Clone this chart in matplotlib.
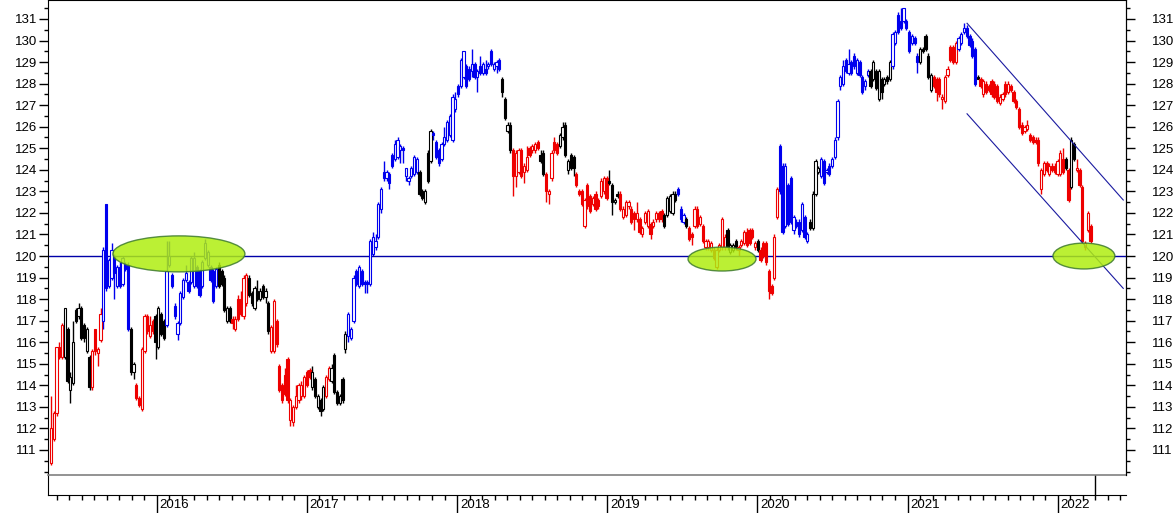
import numpy as np
import matplotlib.pyplot as plt
from matplotlib.patches import Ellipse
from matplotlib.ticker import MultipleLocator, FixedLocator

plt.rcParams['font.family'] = ['Liberation Sans', 'DejaVu Sans']

# weekly candles, one row per year (2015 starts in April, 2022 ends in March)
opens = [
    110.4, 111.5, 112.7, 115.8, 115.3, 115.3, 116.6, 113.8, 114.1, 117.5, 117.2, 117.6, 116.8, 115.6, 115.3, 113.9, 116.6, 115.5, 116.1, 117.0,
    122.4, 118.6, 119.0, 120.0, 118.6, 119.5, 118.7, 119.6, 119.6, 116.6, 114.6, 114.0, 113.4, 112.9, 115.6, 117.2, 116.3, 117.0,
    # 2016
    117.2, 115.8, 117.3, 117.0, 116.8, 119.6, 119.1, 117.7, 116.4, 116.9, 118.1, 118.9, 118.8, 118.8, 118.6, 119.5, 119.3, 118.6, 119.9, 119.6,
    119.5, 119.3, 118.6, 119.6, 119.3, 119.0, 117.0, 117.6, 117.1, 116.6, 118.0, 118.0, 117.2, 117.8, 119.0, 118.3, 117.6, 118.4, 118.0, 118.6,
    118.1, 117.8, 115.6, 115.6, 117.0, 114.9, 114.0, 114.5, 115.2, 112.4, 112.3, 113.0, 113.3,
    # 2017
    113.5, 113.5, 114.6, 114.7, 113.9, 114.3, 113.0, 113.3, 112.9, 113.5, 114.3, 114.2, 115.4, 113.7, 113.2, 114.3, 115.7, 116.3, 116.2, 117.0,
    119.3, 118.6, 119.3, 118.8, 118.8, 118.7, 120.1, 120.4, 120.9, 122.2, 123.9, 123.6, 123.8, 124.7, 124.5, 124.6, 124.9, 125.0, 123.7, 123.5,
    123.7, 123.8, 123.9, 123.9, 123.0, 122.5, 124.8, 124.4, 125.7, 125.3, 124.9, 124.5, 125.2, 125.4, 125.6,
    # 2018
    125.4, 126.8, 127.9, 127.9, 128.3, 128.8, 128.7, 128.6, 128.9, 128.3, 128.8, 128.5, 128.7, 128.8, 129.5, 128.7, 128.8, 129.1, 128.2, 127.3,
    125.8, 126.1, 124.9, 123.7, 123.9, 124.9, 123.9, 124.0, 125.0, 124.9, 124.9, 125.3, 124.7, 124.8, 123.8, 122.9, 123.6, 125.3, 125.2, 125.1,
    125.5, 126.1, 124.0, 124.7, 124.6, 123.8, 123.0, 123.0, 121.4, 123.3, 122.8, 122.4, 122.9, 122.6, 122.8, 123.0, 123.6,
    # 2019
    123.5, 123.3, 122.5, 122.9, 122.9, 121.8, 121.9, 122.3, 122.2, 122.0, 121.7, 121.7, 121.0, 121.6, 121.4, 121.5, 121.4, 121.7, 122.0, 122.1,
    121.9, 121.9, 122.1, 122.0, 122.9, 123.1, 122.2, 121.6, 121.7, 121.3, 121.0, 121.4, 122.2, 121.5, 121.4, 120.4, 120.4, 120.3, 120.3, 119.5,
    120.3, 120.4, 120.4, 121.2, 120.2, 120.3, 120.7, 120.3, 120.5, 120.6, 121.1, 121.2, 121.2,
    # 2020
    120.4, 120.7, 120.3, 120.6, 120.6, 119.3, 118.6, 119.0, 121.8, 125.1, 124.2, 121.4, 123.3, 123.6, 121.2, 121.6, 121.6, 121.2, 121.8, 120.7,
    121.6, 121.3, 122.9, 123.9, 123.7, 124.4, 123.9, 124.2, 124.2, 124.6, 125.5, 127.9, 128.0, 129.1, 128.5, 129.0, 129.3, 128.5, 129.0, 128.3,
    127.9, 128.4, 128.6, 128.2, 128.6, 127.3, 128.2, 128.0, 128.3, 128.2, 128.8, 129.9, 131.2, 130.9, 130.9, 130.9,
    # 2021
    130.4, 129.9, 130.1, 129.3, 129.0, 129.6, 130.2, 129.3, 127.7, 128.3, 128.2, 128.2, 127.3, 127.2, 128.4, 129.7, 129.7, 129.0, 129.6, 129.9,
    130.4, 130.6, 130.2, 130.0, 129.6, 128.3, 128.2, 127.5, 128.0, 127.9, 128.1, 128.0, 127.9, 127.1, 127.3, 128.0, 127.6, 127.9, 127.6, 127.2,
    126.8, 126.1, 125.8, 125.9, 125.6, 125.5, 125.4, 125.4, 123.1, 123.8, 124.3, 123.8, 124.2, 124.2, 123.8, 123.8,
    # 2022
    124.5, 124.5, 124.0, 123.2, 125.2, 124.0, 124.0, 123.2, 120.4, 121.2, 121.4,
]
closes = [
    112.0, 112.7, 115.8, 115.3, 116.8, 117.6, 114.2, 114.4, 116.0, 117.0, 117.6, 116.2, 116.2, 116.6, 113.9, 115.6, 115.6, 115.7, 117.3, 120.3,
    118.5, 119.8, 120.3, 119.2, 119.5, 118.6, 119.9, 119.4, 116.6, 114.6, 115.0, 113.4, 113.1, 115.7, 117.2, 116.5, 116.8, 116.5,
    # 2016
    116.0, 117.6, 116.4, 116.2, 119.3, 120.0, 118.6, 117.2, 116.9, 118.3, 118.9, 119.2, 118.4, 119.9, 119.9, 118.6, 118.2, 119.7, 120.6, 120.2,
    118.9, 117.9, 119.4, 118.6, 118.7, 117.5, 117.6, 117.0, 116.9, 117.1, 117.1, 117.3, 119.0, 119.1, 118.2, 117.8, 118.5, 118.0, 118.4, 118.1,
    118.4, 116.5, 116.7, 117.9, 115.9, 113.8, 113.3, 113.6, 113.3, 113.3, 113.0, 113.5, 114.0,
    # 2017
    114.0, 114.4, 114.0, 114.4, 114.6, 113.5, 113.5, 112.8, 113.9, 114.4, 114.8, 114.8, 113.7, 113.2, 113.5, 113.3, 116.4, 117.3, 116.6, 119.0,
    118.7, 119.5, 118.7, 118.7, 118.7, 120.7, 120.9, 120.7, 122.4, 123.1, 123.6, 123.9, 123.4, 124.2, 125.2, 125.4, 125.1, 124.9, 124.1, 123.6,
    124.1, 124.6, 124.5, 122.9, 122.7, 123.0, 123.5, 125.8, 125.6, 124.6, 124.3, 125.2, 125.5, 126.2, 126.5,
    # 2018
    127.4, 127.3, 127.5, 129.1, 129.5, 127.9, 128.2, 128.9, 128.3, 128.6, 128.5, 128.9, 128.5, 128.9, 128.9, 128.9, 129.0, 128.7, 127.6, 126.4,
    126.1, 124.9, 123.7, 124.8, 124.9, 123.7, 124.2, 124.6, 124.7, 125.1, 125.2, 125.0, 124.4, 123.8, 123.0, 123.0, 124.8, 124.9, 124.8, 125.6,
    126.0, 124.7, 124.4, 124.1, 124.1, 123.3, 122.9, 122.4, 122.6, 122.3, 122.1, 122.7, 122.2, 122.3, 123.5, 123.6, 122.7,
    # 2019
    123.4, 122.5, 122.6, 122.8, 122.2, 122.2, 122.5, 122.5, 121.6, 121.7, 122.0, 121.1, 121.3, 122.0, 122.1, 121.0, 121.6, 122.0, 121.7, 121.7,
    121.4, 122.7, 122.8, 122.9, 122.6, 122.9, 121.7, 121.9, 121.4, 120.8, 120.9, 122.2, 121.4, 121.8, 120.7, 120.7, 120.7, 120.6, 119.9, 120.3,
    120.5, 121.7, 120.9, 120.4, 120.5, 120.5, 120.4, 120.4, 120.7, 121.1, 120.5, 120.6, 120.9,
    # 2020
    120.6, 120.3, 119.8, 120.0, 119.7, 118.4, 118.3, 120.9, 123.1, 123.0, 121.1, 124.2, 121.5, 121.6, 121.8, 121.4, 121.0, 122.4, 120.9, 121.0,
    121.3, 122.9, 124.4, 124.1, 124.5, 123.4, 124.0, 123.8, 124.5, 125.4, 127.2, 128.3, 128.8, 128.6, 128.9, 128.5, 128.8, 129.1, 128.4, 127.6,
    128.1, 128.6, 127.9, 129.0, 127.8, 128.6, 127.6, 128.2, 128.1, 129.0, 130.3, 130.4, 130.4, 130.6, 131.5, 130.6,
    # 2021
    129.5, 130.2, 129.9, 129.0, 129.6, 129.5, 129.6, 128.3, 128.4, 127.9, 127.6, 127.5, 127.4, 128.3, 128.7, 129.1, 129.0, 129.9, 130.1, 130.3,
    130.6, 130.2, 129.8, 129.3, 128.0, 128.2, 127.9, 128.1, 127.6, 127.7, 127.5, 127.4, 127.2, 127.4, 127.5, 127.5, 128.0, 127.7, 127.2, 126.9,
    126.0, 125.7, 126.0, 126.1, 125.4, 125.3, 125.3, 124.3, 124.0, 124.3, 124.0, 124.2, 124.0, 123.9, 124.4, 124.8,
    # 2022
    123.9, 124.1, 122.6, 125.4, 124.5, 124.1, 123.3, 120.7, 120.6, 122.0, 120.7,
]
highs = [
    113.5, 112.8, 115.8, 116.0, 116.9, 117.6, 116.7, 114.6, 117.0, 117.6, 117.8, 117.7, 116.9, 116.7, 115.4, 115.7, 116.6, 115.8, 117.6, 120.4,
    122.4, 119.9, 120.6, 120.1, 119.6, 119.7, 120.0, 119.7, 119.7, 116.7, 115.1, 114.1, 113.5, 115.8, 117.3, 117.3, 117.2, 117.1,
    # 2016
    117.3, 117.7, 117.4, 117.1, 120.7, 120.7, 119.2, 117.8, 117.0, 118.4, 119.0, 119.6, 118.9, 120.0, 120.2, 119.6, 119.4, 119.8, 120.8, 120.3,
    119.6, 119.4, 119.5, 119.7, 119.4, 119.1, 117.7, 117.7, 117.2, 117.2, 118.2, 118.4, 119.1, 119.2, 119.1, 118.4, 118.6, 118.9, 118.5, 118.7,
    118.5, 117.9, 116.8, 118.0, 117.1, 115.0, 114.1, 114.8, 115.3, 113.4, 113.1, 114.0, 114.1,
    # 2017
    114.2, 114.5, 114.7, 114.8, 114.9, 114.4, 113.6, 113.4, 114.0, 114.5, 114.9, 115.0, 115.5, 113.8, 113.6, 114.4, 116.5, 117.4, 116.7, 119.1,
    119.4, 119.6, 119.4, 118.9, 118.9, 120.8, 121.1, 121.0, 122.5, 123.2, 124.4, 124.0, 123.9, 124.8, 125.4, 125.5, 125.2, 125.1, 124.1, 123.7,
    124.2, 124.7, 124.6, 124.0, 123.1, 123.1, 124.9, 125.9, 125.8, 125.4, 125.0, 125.3, 126.0, 126.3, 126.6,
    # 2018
    127.5, 127.6, 128.0, 129.2, 129.5, 128.9, 128.8, 129.6, 129.0, 128.7, 129.3, 129.0, 129.1, 129.0, 129.6, 129.0, 129.1, 129.2, 128.3, 127.4,
    126.2, 126.2, 125.0, 124.9, 125.0, 125.0, 124.3, 125.1, 125.1, 125.2, 125.3, 125.4, 124.9, 124.9, 123.9, 123.1, 124.9, 125.5, 125.3, 125.7,
    126.2, 126.2, 124.5, 124.8, 124.7, 123.9, 123.1, 123.1, 122.7, 123.4, 122.9, 122.8, 123.0, 122.7, 123.6, 123.7, 123.7,
    # 2019
    124.0, 123.4, 122.7, 123.0, 123.0, 122.3, 122.6, 122.6, 122.3, 122.1, 122.5, 121.8, 121.4, 122.1, 122.2, 121.6, 121.7, 122.1, 122.1, 122.2,
    122.0, 122.8, 122.9, 123.0, 123.0, 123.2, 122.3, 122.0, 121.8, 121.4, 121.1, 122.3, 122.3, 121.9, 121.5, 120.8, 120.8, 120.7, 120.4, 120.4,
    120.6, 121.8, 121.0, 121.3, 120.6, 120.6, 120.8, 120.5, 120.8, 121.2, 121.3, 121.3, 121.3,
    # 2020
    120.7, 120.8, 120.4, 120.7, 120.7, 119.4, 118.7, 121.0, 123.2, 125.2, 124.3, 124.3, 123.4, 123.7, 121.9, 121.7, 121.7, 122.5, 121.9, 121.1,
    121.7, 123.0, 124.5, 124.2, 124.6, 124.5, 124.1, 124.3, 124.6, 125.5, 127.3, 128.4, 129.1, 129.2, 129.6, 129.1, 129.4, 129.2, 129.1, 128.4,
    128.2, 128.7, 128.7, 129.1, 128.7, 128.7, 128.3, 128.3, 128.4, 129.1, 130.4, 130.5, 131.3, 131.5, 131.5, 131.0,
    # 2021
    130.5, 130.3, 130.2, 129.4, 129.7, 129.7, 130.3, 129.4, 128.5, 128.4, 128.3, 128.3, 127.5, 128.4, 128.8, 129.8, 129.8, 130.0, 130.2, 130.4,
    130.8, 130.7, 130.3, 130.1, 129.7, 128.4, 128.3, 128.2, 128.1, 128.0, 128.2, 128.1, 128.0, 127.5, 127.6, 128.1, 128.1, 128.0, 127.7, 127.3,
    126.9, 126.2, 126.1, 126.3, 125.7, 125.6, 125.5, 125.5, 124.1, 124.4, 124.4, 124.3, 124.3, 124.3, 124.5, 124.9,
    # 2022
    125.0, 124.6, 124.1, 125.5, 125.3, 124.5, 124.1, 123.3, 120.7, 122.1, 121.5,
]
lows = [
    110.3, 111.4, 112.6, 115.2, 115.2, 115.2, 114.1, 113.2, 114.0, 116.9, 117.1, 116.1, 116.0, 115.5, 113.8, 113.8, 115.4, 114.9, 116.0, 116.6,
    118.4, 118.5, 118.9, 118.0, 118.5, 118.5, 118.6, 119.3, 116.5, 114.5, 114.3, 113.3, 113.0, 112.8, 115.5, 116.4, 116.2, 116.4,
    # 2016
    115.2, 115.7, 116.3, 116.1, 116.7, 119.5, 118.5, 117.1, 116.1, 116.8, 118.0, 118.8, 118.3, 118.7, 118.5, 118.5, 118.1, 118.5, 119.8, 119.5,
    118.8, 117.8, 118.5, 118.5, 118.6, 117.4, 116.9, 116.9, 116.6, 116.5, 117.0, 117.2, 117.1, 117.7, 118.1, 117.7, 117.5, 117.9, 117.9, 118.0,
    117.8, 116.4, 115.5, 115.5, 115.8, 113.7, 113.2, 113.5, 113.2, 112.1, 112.1, 112.9, 113.2,
    # 2017
    113.3, 113.4, 113.9, 114.3, 113.8, 113.4, 112.9, 112.6, 112.8, 113.4, 114.2, 114.1, 113.6, 113.1, 113.1, 113.2, 115.5, 116.0, 116.1, 116.9,
    118.6, 118.5, 118.6, 118.3, 118.3, 118.6, 120.0, 120.3, 120.8, 122.0, 123.5, 123.5, 123.1, 124.1, 124.4, 124.5, 124.3, 124.3, 123.5, 123.3,
    123.6, 123.7, 123.8, 122.8, 122.6, 122.4, 123.4, 124.3, 125.4, 124.5, 124.2, 124.4, 125.1, 125.3, 125.5,
    # 2018
    125.3, 126.7, 127.4, 127.8, 128.2, 127.8, 128.1, 128.3, 128.2, 127.6, 128.4, 128.4, 128.4, 128.7, 128.8, 128.6, 128.5, 128.6, 127.4, 126.3,
    125.7, 124.8, 122.8, 123.2, 123.8, 123.6, 123.4, 123.9, 124.6, 124.8, 124.8, 124.9, 124.3, 123.7, 122.5, 122.4, 123.5, 124.8, 124.7, 125.0,
    125.4, 124.6, 123.8, 124.0, 123.7, 123.2, 122.8, 122.3, 121.3, 122.2, 122.0, 122.3, 122.1, 122.2, 122.7, 122.9, 122.6,
    # 2019
    123.3, 121.9, 122.4, 122.7, 122.1, 121.7, 121.8, 122.2, 121.5, 121.2, 121.6, 121.0, 120.9, 121.5, 121.3, 120.8, 121.3, 121.6, 121.6, 121.6,
    121.3, 121.8, 122.0, 121.9, 122.5, 122.8, 121.6, 121.5, 121.3, 120.7, 120.5, 121.3, 121.3, 121.4, 120.6, 120.3, 120.3, 120.2, 119.8, 119.4,
    120.2, 120.3, 120.3, 120.3, 120.1, 120.2, 120.3, 120.0, 120.4, 120.5, 120.4, 120.5, 120.8,
    # 2020
    120.3, 120.2, 119.7, 119.9, 119.6, 118.0, 118.2, 118.9, 121.7, 122.9, 121.0, 121.3, 121.4, 121.5, 121.0, 121.3, 120.9, 121.1, 120.8, 120.6,
    121.2, 121.2, 122.8, 123.8, 123.6, 123.3, 123.8, 123.7, 124.1, 124.5, 125.4, 127.7, 127.9, 128.5, 128.4, 128.4, 128.7, 128.4, 128.3, 127.5,
    127.7, 128.3, 127.8, 128.1, 127.7, 127.2, 127.3, 127.9, 128.0, 128.1, 128.7, 129.8, 130.3, 130.5, 130.8, 130.5,
    # 2021
    129.4, 129.8, 129.8, 128.5, 128.9, 129.4, 129.5, 128.2, 127.6, 127.8, 127.2, 127.4, 126.8, 127.1, 128.3, 129.0, 128.9, 128.9, 129.5, 129.8,
    130.3, 130.1, 129.7, 129.2, 127.9, 128.2, 127.8, 127.4, 127.5, 127.6, 127.4, 127.3, 127.1, 127.0, 127.2, 127.4, 127.5, 127.6, 127.1, 126.8,
    125.9, 125.6, 125.7, 125.8, 125.3, 125.2, 125.2, 124.2, 122.9, 123.7, 123.9, 123.7, 123.9, 123.8, 123.7, 123.7,
    # 2022
    123.8, 124.0, 122.5, 123.1, 124.4, 123.9, 123.2, 120.6, 120.3, 121.1, 120.6,
]
# trend colour of each candle: b = blue, r = red, k = black
colour_codes = "".join([
    "rrrrr" + "k" * 10 + "rrrr" + "b" * 10 + "kk" + "r" * 7,
    "kkkk" + "b" * 19 + "kkkkk" + "rrrrrr" + "k" * 8 + "r" * 11,
    "rrrr" + "kkkkk" + "rr" + "k" * 6 + "b" * 26 + "kkkkk" + "b" * 7,
    "b" * 18 + "kkkk" + "r" * 10 + "kk" + "rrrrr" + "k" * 6 + "r" * 12,
    "kkkk" + "r" * 16 + "kkkkk" + "bbb" + "k" + "r" * 14 + "kkkk" + "r" * 6,
    "rk" + "r" * 7 + "b" * 11 + "kkkk" + "b" * 18 + "k" * 8 + "b" * 6,
    "bbbb" + "kkkkk" + "r" * 9 + "b" * 7 + "k" + "r" * 30,
    "rkrkk" + "rrrrrr",
])

years = [2016, 2017, 2018, 2019, 2020, 2021, 2022]
date_span = [2015.276, 2022.455]
last_date = 2022.25

support = 120
channel_x = [333.1, 389.9]
channel_top = [130.8, 122.6]
channel_bottom = [126.6, 118.5]

ell_x = [46.5, 244.0, 375.6]
ell_y = [120.1, 119.86, 120.0]
ell_w = [48.0, 24.7, 22.5]
ell_h = [1.67, 1.11, 1.2]

palette = {"b": "#0000ee", "r": "#ee0000", "k": "#000000"}

fig = plt.figure(figsize=(11.74, 5.13), dpi=100)

# date strip under the chart (drawn first, transparent background)
strip = fig.add_axes([48 / 1174, 18 / 513, 1078 / 1174, 20 / 513])
strip.patch.set_visible(False)
strip.set_xlim(date_span)
strip.set_ylim(0, 1)
strip.set_yticks([])
strip.spines["top"].set_visible(False)
strip.spines["right"].set_visible(False)
strip.xaxis.set_major_locator(FixedLocator(years))
strip.xaxis.set_minor_locator(MultipleLocator(1 / 12))
strip.set_xticklabels([])
strip.tick_params(axis="x", which="major", length=14, width=1)
strip.tick_params(axis="x", which="minor", length=3.5, width=1)
strip.axvline(last_date, color="black", lw=1)
for yr in years:
    strip.annotate(str(yr), xy=(yr, 0), xycoords=("data", "axes fraction"),
                   xytext=(2, -3), textcoords="offset points",
                   ha="left", va="top", fontsize=9.5)

ax = fig.add_axes([48 / 1174, 38 / 513, 1078 / 1174, 475 / 513])

idx = np.arange(len(closes))
o = np.array(opens)
c = np.array(closes)
cols = [palette[k] for k in colour_codes]
faces = ["white" if c[i] > o[i] else cols[i] for i in range(len(c))]

ax.vlines(idx, lows, highs, colors=cols, lw=1.0, zorder=2)
ax.bar(idx, c - o, bottom=o, width=0.85, color=faces, edgecolor=cols,
       linewidth=0.8, zorder=3)

ax.axhline(support, color="#0000a8", lw=1.0, zorder=2.5)
ax.plot(channel_x, channel_top, color="#1a1aa0", lw=0.8, zorder=4)
ax.plot(channel_x, channel_bottom, color="#1a1aa0", lw=0.8, zorder=4)

for ex, ey, ew, eh in zip(ell_x, ell_y, ell_w, ell_h):
    ax.add_patch(Ellipse((ex, ey), ew, eh, facecolor="#b0ee10",
                         edgecolor="#3d7a2e", lw=1.0, alpha=0.85, zorder=5))

ax.set_xlim(-1.1, 390.9)
ax.set_ylim(109.84, 131.88)
ax.set_xticks([])
ax.yaxis.set_major_locator(FixedLocator(range(111, 132)))
ax.yaxis.set_minor_locator(MultipleLocator(0.5))
ax.tick_params(axis="y", which="major", length=6.5, width=1, pad=1.5,
               labelsize=9.5, direction="out")
ax.tick_params(axis="y", which="minor", length=3, width=1, direction="out")
ax.spines["bottom"].set_color("#808080")
ax.spines["bottom"].set_linewidth(1.2)

ax2 = ax.twinx()
ax2.set_ylim(ax.get_ylim())
ax2.yaxis.set_major_locator(FixedLocator(range(111, 132)))
ax2.yaxis.set_minor_locator(MultipleLocator(0.5))
ax2.tick_params(axis="y", which="major", length=6.5, width=1, pad=12,
                labelsize=9.5, direction="out")
ax2.tick_params(axis="y", which="minor", length=3, width=1, direction="out")
for s in ["left", "top", "bottom"]:
    ax2.spines[s].set_visible(False)

fig.savefig("out.png", dpi=100)
